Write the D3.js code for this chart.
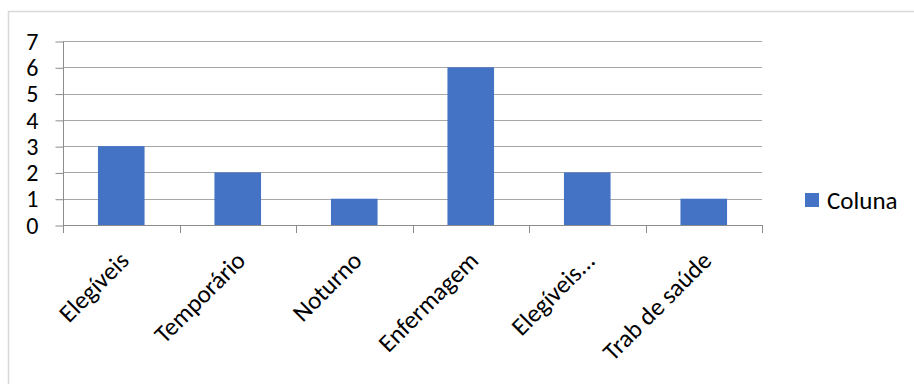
<!DOCTYPE html>
<html lang="pt">
<head>
<meta charset="utf-8">
<title>Coluna</title>
<script src="https://d3js.org/d3.v7.min.js"></script>
<style>
    body { margin: 0; background: #fff; }
    svg text { font-family: Carlito, Calibri, Lato, "Noto Sans", sans-serif; fill: #000; }
</style>
</head>
<body>
<svg id="chart" width="914" height="384"></svg>
<script>
// data
const categories = ["Elegíveis", "Temporário", "Noturno", "Enfermagem", "Elegíveis...", "Trab de saúde"];
const coluna = [3, 2, 1, 6, 2, 1];
const yTicks = [0, 1, 2, 3, 4, 5, 6, 7];
const seriesName = "Coluna";

const fontSize = 25;
const svg = d3.select("#chart");

// chart border (runs off right/bottom edge)
svg.append("rect")
    .attr("x", 8.5).attr("y", 11.5)
    .attr("width", 920).attr("height", 400)
    .attr("fill", "none").attr("stroke", "#d9d9d9").attr("stroke-width", 1.5);

const plotL = 63, plotR = 762, plotT = 41, plotB = 225;

const x = d3.scaleBand().domain(categories).range([plotL, plotR])
    .paddingInner(0.6).paddingOuter(0.3);
const y = d3.scaleLinear().domain([0, 7]).range([plotB, plotT]);

// gridlines
svg.append("g").selectAll("line").data(yTicks.filter(d => d > 0)).enter()
    .append("line")
    .attr("x1", plotL).attr("x2", plotR)
    .attr("y1", d => Math.round(y(d)) + 0.5).attr("y2", d => Math.round(y(d)) + 0.5)
    .attr("stroke", "#a6a6a6").attr("stroke-width", 1);

// bars
svg.append("g").selectAll("rect").data(coluna).enter()
    .append("rect")
    .attr("x", (d, i) => x(categories[i]))
    .attr("width", x.bandwidth())
    .attr("y", d => y(d))
    .attr("height", d => y(0) - y(d))
    .attr("fill", "#4472c4");

// y axis
const yAxis = d3.axisLeft(y).tickValues(yTicks).tickSize(8).tickPadding(17).tickFormat(d3.format("d"));
const gy = svg.append("g").attr("transform", "translate(" + (plotL + 0.5) + ",0.5)").call(yAxis);
gy.select(".domain").attr("stroke", "#8c8c8c").attr("d", "M0," + plotT + "V" + plotB);
gy.selectAll(".tick line").attr("stroke", "#8c8c8c");
gy.selectAll(".tick text").attr("font-size", 24).attr("font-family", "Carlito, Calibri, Lato, sans-serif");

// x axis: ticks at category boundaries
const bounds = categories.map(c => x(c) - x.step() * 0.3).concat([plotR]);
const gx = svg.append("g");
gx.append("line").attr("x1", plotL).attr("x2", plotR)
    .attr("y1", plotB + 0.5).attr("y2", plotB + 0.5).attr("stroke", "#8c8c8c");
gx.selectAll("line.tk").data(bounds).enter().append("line").attr("class", "tk")
    .attr("x1", d => Math.round(d) + 0.5).attr("x2", d => Math.round(d) + 0.5)
    .attr("y1", plotB).attr("y2", plotB + 8).attr("stroke", "#8c8c8c");

// rotated category labels
gx.selectAll("text").data(categories).enter().append("text")
    .attr("transform", d => "translate(" + (x(d) + x.bandwidth() / 2 + 3) + "," + (plotB + 31) + ") rotate(-45)")
    .attr("text-anchor", "end")
    .attr("dy", "0.35em")
    .attr("font-size", fontSize)
    .text(d => d);

// legend
const lg = svg.append("g").attr("transform", "translate(805,193)");
lg.append("rect").attr("width", 14).attr("height", 14).attr("fill", "#4472c4");
lg.append("text").attr("x", 22).attr("y", 7).attr("dy", "0.35em")
    .attr("font-size", fontSize).text(seriesName);
</script>
</body>
</html>
